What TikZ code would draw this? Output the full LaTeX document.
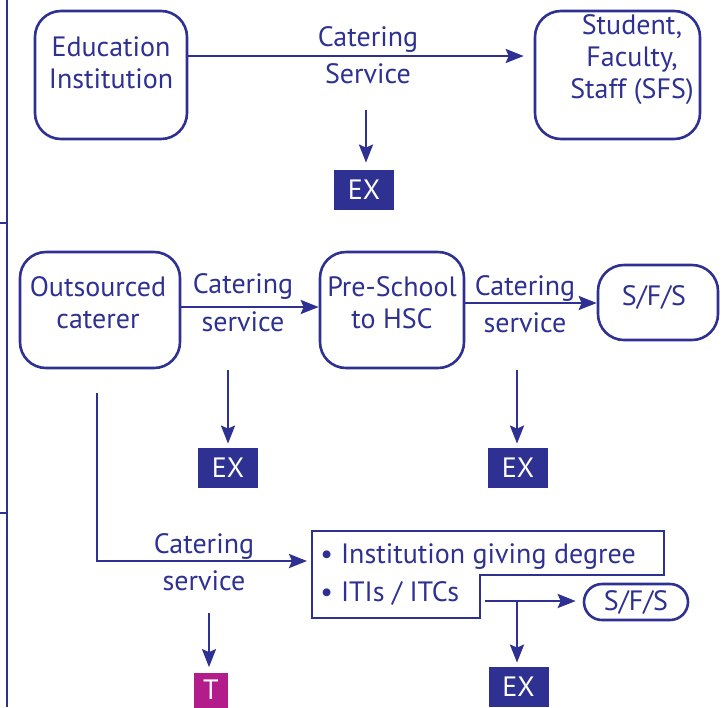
\documentclass[tikz,border=0pt]{standalone}
\usepackage{fontspec}
\setmainfont{PT Sans}
\usetikzlibrary{arrows.meta}
\definecolor{navy}{HTML}{2E3192}
\definecolor{tmag}{HTML}{B31C8B}

\begin{document}
\begin{tikzpicture}[
                    x=0.5pt, y=-0.5pt,
                    font=\fontsize{14}{16}\selectfont,
                    every node/.style={text=navy},
                    box/.style={draw=navy, line width=1.3pt, rounded corners=13pt, inner sep=0pt},
                    pill/.style={box, rounded corners=9pt, minimum width=52pt, minimum height=18pt},
                    txt/.style={align=center, inner sep=0pt},
                    lbl/.style={anchor=base, inner sep=0pt},
                    exbox/.style={fill=navy, text=white, minimum width=30pt, minimum height=20pt, inner sep=0pt},
                    tbox/.style={fill=tmag, text=white, minimum width=17pt, minimum height=17.5pt, inner sep=0pt},
                    rail/.style={draw=navy, line width=1.3pt},
                    arr/.style={draw=navy, line width=1.3pt, -{Stealth[length=9pt, width=7pt, inset=1.5pt]}}
                ]
                \useasboundingbox (0,0) rectangle (726,707);

                % left rail
                \draw[rail] (7,0) -- (7,707);
                \draw[rail] (0,223) -- (7,223);
                \draw[rail] (0,513) -- (7,513);

                % Row 1
                \node[box, minimum width=76pt, minimum height=64pt] (edu) at (111,75) {};
                \node[txt] (edut) at (111,63) {Education\\Institution};
                \node[box, minimum width=82.5pt, minimum height=64pt] (sfs) at (617.5,75) {};
                \node[txt] (sfst) at (632,60) {Student,\\Faculty,\\Staff (SFS)};

                \coordinate (r1) at (0,56);
                \draw[arr, shorten >=5pt] (edu.east |- r1) -- (sfs.west |- r1);
                \node[lbl] (cat1) at (368,46) {Catering};
                \node[lbl] (ser1) at (368,83) {Service};

                \node[exbox] (ex1) at (364,190) {EX};
                \coordinate (d1) at (366,110);
                \draw[arr, shorten >=3.5pt] (d1) -- (d1 |- ex1.north);

                % Row 2
                \node[box, minimum width=80pt, minimum height=58pt] (out) at (100,310) {};
                \node[txt] (outt) at (98,303) {Outsourced\\caterer};
                \node[box, minimum width=72pt, minimum height=58pt] (pre) at (392,310) {};
                \node[txt] (pret) at (392,303) {Pre-School\\to HSC};
                \node[box, minimum width=60pt, minimum height=37.5pt] (sfs2) at (658,302.5) {};
                \node[txt] (sfs2t) at (654,297) {S/F/S};

                \coordinate (r2) at (0,307);
                \coordinate (r3) at (0,303);
                \draw[arr] (out.east |- r2) -- (pre.west |- r2);
                \draw[arr] (pre.east |- r3) -- (sfs2.west |- r3);
                \node[lbl] (cat2) at (243,293) {Catering};
                \node[lbl] (ser2) at (243,331) {service};
                \node[lbl] (cat3) at (525,295) {Catering};
                \node[lbl] (ser3) at (525,332) {service};

                \node[exbox] (ex2) at (228,468) {EX};
                \node[exbox] (ex3) at (518,468) {EX};
                \coordinate (d2) at (228,370);
                \coordinate (d3) at (517,370);
                \draw[arr, shorten >=2pt] (d2) -- (d2 |- ex2.north);
                \draw[arr, shorten >=2pt] (d3) -- (d3 |- ex3.north);

                % Row 3
                \draw[rail] (312,531) -- (664,531) -- (664,575) -- (480,575) -- (480,618) -- (312,618) -- cycle;
                \node[lbl, anchor=base west] (deg) at (320,563) {\textbullet\hspace{4pt}Institution giving degree};
                \node[lbl, anchor=base west] (iti) at (320,601) {\textbullet\hspace{4pt}ITIs / ITCs};

                \coordinate (b0) at (97,393);
                \coordinate (boxin) at (312,561);
                \draw[arr, shorten >=2.5pt] (b0) |- (boxin);
                \node[lbl] (cat4) at (204,553) {Catering};
                \node[lbl] (ser4) at (204,590) {service};

                \node[tbox] (tt) at (211,690) {T};
                \coordinate (t0) at (209,613);
                \draw[arr, shorten >=2.5pt] (t0) -- (t0 |- tt.north);

                \node[pill] (sfs3) at (636,602) {S/F/S};
                \coordinate (i0) at (485,601);
                \draw[arr, shorten >=3.5pt] (i0) -- (i0 -| sfs3.west);

                \node[exbox] (ex4) at (518.5,687) {EX};
                \coordinate (j0) at (517,601);
                \draw[arr, shorten >=2pt] (j0) -- (j0 |- ex4.north);

            \end{tikzpicture}
\end{document}
